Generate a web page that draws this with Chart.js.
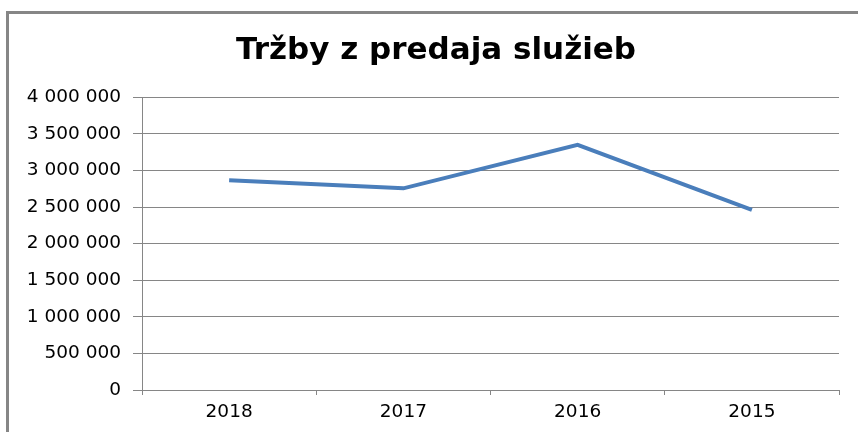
<!DOCTYPE html>
<html>
<head>
<meta charset="utf-8">
<script src="https://cdn.jsdelivr.net/npm/chart.js@4"></script>
<style>
  html, body { margin: 0; padding: 0; background: #fff; overflow: hidden; }
  #frame {
    position: absolute; left: 6px; top: 11px;
    border-left: 3px solid #868686; border-top: 3px solid #868686;
    width: 854px; height: 418px;
  }
</style>
</head>
<body>
<div id="frame"><canvas id="graf"></canvas></div>
<script>
// údaje z grafu
const roky = ['2018', '2017', '2016', '2015']
const trzby = [2865000, 2755000, 3350000, 2460000]
const osY = { min: 0, max: 4000000, krok: 500000 }

const siva = '#868686'

// 4 000 000 -> medzera ako oddeľovač tisícov
function formatCislo(v) {
  return String(v).replace(/\B(?=(\d{3})+(?!\d))/g, ' ')
}

let ctx = document.getElementById('graf')

Chart.defaults.font.family = '"DejaVu Sans", sans-serif'
Chart.defaults.color = '#000'

const data = {
  labels: roky,
  datasets: [{
    label: 'Tržby z predaja služieb',
    data: trzby,
    borderColor: '#4a7ebb',
    backgroundColor: '#4a7ebb',
    borderWidth: 4,
    tension: 0,
    pointRadius: 0,
    pointHoverRadius: 0
  }]
}

const config = {
  type: 'line',
  data,
  options: {
    responsive: true,
    maintainAspectRatio: false,
    animation: false,
    layout: { padding: 0 },
    plugins: {
      legend: { display: false },
      tooltip: { enabled: false },
      title: {
        display: true,
        text: 'Tržby z predaja služieb',
        font: { family: '"DejaVu Sans", sans-serif', size: 31, weight: 'bold' },
        color: '#000',
        padding: { top: 18, bottom: 28 }
      }
    },
    scales: {
      x: {
        offset: true,
        grid: {
          offset: true,
          drawOnChartArea: false,
          drawTicks: true,
          tickLength: 5,
          color: siva
        },
        border: { color: siva, width: 1 },
        ticks: { font: { size: 18.5 }, padding: 6, maxRotation: 0 },
        afterFit: s => { s.height = 42 }
      },
      y: {
        min: osY.min,
        max: osY.max,
        grid: { color: siva, tickLength: 9 },
        border: { color: siva, width: 1 },
        ticks: {
          stepSize: osY.krok,
          font: { size: 18.5 },
          padding: 12,
          callback: v => formatCislo(v)
        },
        afterFit: s => { s.width = 133 }
      },
      // prázdna os vpravo, len kvôli okraju
      y2: {
        position: 'right',
        display: true,
        grid: { drawOnChartArea: false, drawTicks: false },
        border: { display: false },
        ticks: { display: false },
        afterFit: s => { s.width = 24 }
      }
    }
  }
}

const graf = new Chart(ctx, config)
</script>
</body>
</html>
